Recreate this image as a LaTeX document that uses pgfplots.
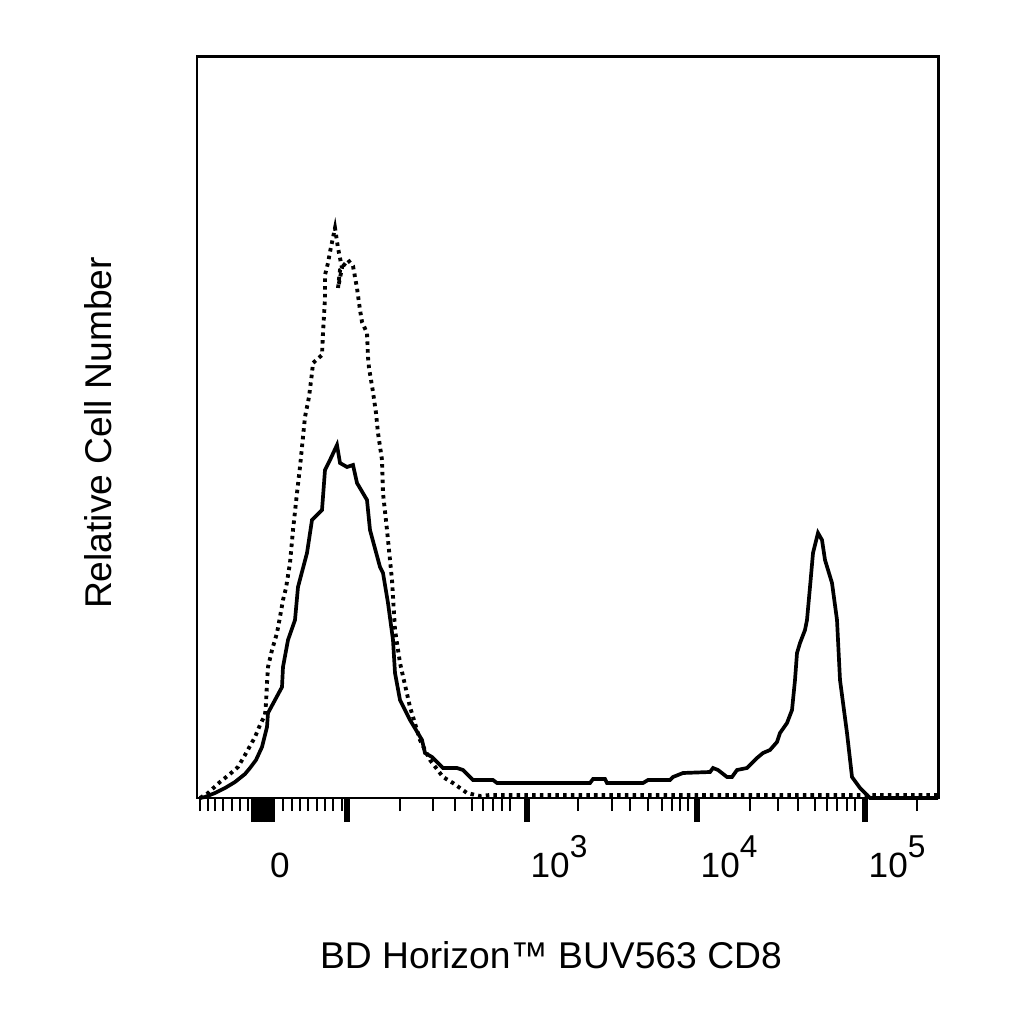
\documentclass[border=0pt]{standalone}
\usepackage{pgfplots}
\pgfplotsset{compat=1.18}
\usepackage{fontspec}
\setmainfont{Liberation Sans}

% x and y are in display units (1 unit = 0.01cm), x is the biexponential scale
\newcommand{\decade}[1]{10\raisebox{0.2cm}{\fontsize{9}{9}\selectfont #1}}

\begin{document}
\begin{tikzpicture}
\begin{axis}[
  scale only axis, width=7.41cm, height=7.41cm,
  xmin=197, xmax=938, ymin=0, ymax=741,
  clip=false,
  axis line style={line width=0.85pt},
  ytick=\empty,
  xtick={347,527,697,865}, xticklabels={},
  xtick pos=bottom, tick align=outside,
  tick style={black},
  major tick length=0.24cm, minor tick length=0.13cm,
  major tick style={black, line width=1.9pt},
  minor tick style={black, line width=0.75pt},
  minor xtick={200,208,215,223,232,240,248,283,292,300,308,317,325,333,342,
    400,433,455,472,483,493,502,510,578,612,630,648,662,672,680,688,
    750,778,798,815,827,837,847,855,917},
  extra x ticks={253,255.5,258,260.5,263,265.5,268,270.5,273},
  extra x tick labels={},
  extra x tick style={major tick style={black, line width=1pt}},
]
% unstained (dotted)
\addplot[black, line width=1.1pt, dash pattern=on 1pt off 1.2pt] coordinates {
(200,0) (208,5) (220,16) (230,24) (238,31) (245,43) (255,61) (260,73) (265,83)
(266,95) (267,115) (268,131) (272,148) (277,165) (280,181) (283,198) (286,210)
(290,235) (293,268) (297,305) (300,331) (305,381) (309,401) (312,425) (313,435)
(322,443) (323,465) (325,500) (325,523) (328,535) (330,546) (335,570) (338,550)
(342,530) (338,510) (340,528) (348,538) (353,532) (357,510) (360,488) (362,476)
(367,465) (368,441) (369,430) (373,406) (376,385) (378,365) (382,338) (383,305)
(387,268) (392,218) (395,168) (400,135) (410,91) (420,58) (430,38) (443,21)
(453,15) (467,5) (480,2) (490,3) (938,3)
};
% stained (solid)
\addplot[black, line width=1.05pt] coordinates {
(200,0) (205,1) (215,5) (225,10) (235,16) (245,24) (250,30) (256,38) (262,51)
(267,71) (268,85) (275,98) (282,111) (283,131) (288,158) (295,178) (298,211)
(307,245) (312,278) (317,283) (322,288) (325,328) (330,338) (337,353) (340,335)
(347,331) (353,333) (357,315) (367,298) (370,268) (380,231) (383,225) (388,195)
(393,158) (395,125) (400,98) (410,78) (422,58) (425,45) (432,41) (443,30)
(457,30) (463,28) (473,18) (493,18) (497,15) (590,15) (593,19) (605,19) (607,15)
(643,15) (648,18) (670,18) (673,21) (683,25) (710,26) (713,30) (718,28) (727,21)
(732,21) (737,28) (747,30) (757,40) (763,45) (770,48) (777,56) (780,65) (787,75)
(792,88) (795,118) (797,145) (800,155) (805,168) (807,178) (810,211) (813,245)
(818,265) (822,258) (825,238) (832,215) (837,178) (840,118) (847,65) (852,21)
(860,10) (867,3) (870,0) (938,0)
};
% tick labels and axis titles
\node[anchor=base, font=\fontsize{10}{10}\selectfont] at (axis cs:280,-79) {0};
\node[anchor=base west, inner sep=0pt, font=\fontsize{10}{10}\selectfont] at (axis cs:530,-79) {\decade{3}};
\node[anchor=base west, inner sep=0pt, font=\fontsize{10}{10}\selectfont] at (axis cs:700,-79) {\decade{4}};
\node[anchor=base west, inner sep=0pt, font=\fontsize{10}{10}\selectfont] at (axis cs:868,-79) {\decade{5}};
\node[anchor=base, font=\fontsize{10.6}{12}\selectfont] at (axis cs:551,-170) {BD Horizon™ BUV563 CD8};
\node[anchor=base, rotate=90, font=\fontsize{10.6}{12}\selectfont] at (axis cs:112,365) {Relative Cell Number};
\coordinate (bl) at (axis cs:0,-226);
\coordinate (tr) at (axis cs:1024,798);
\end{axis}
\path (bl) rectangle (tr);
\end{tikzpicture}
\end{document}
